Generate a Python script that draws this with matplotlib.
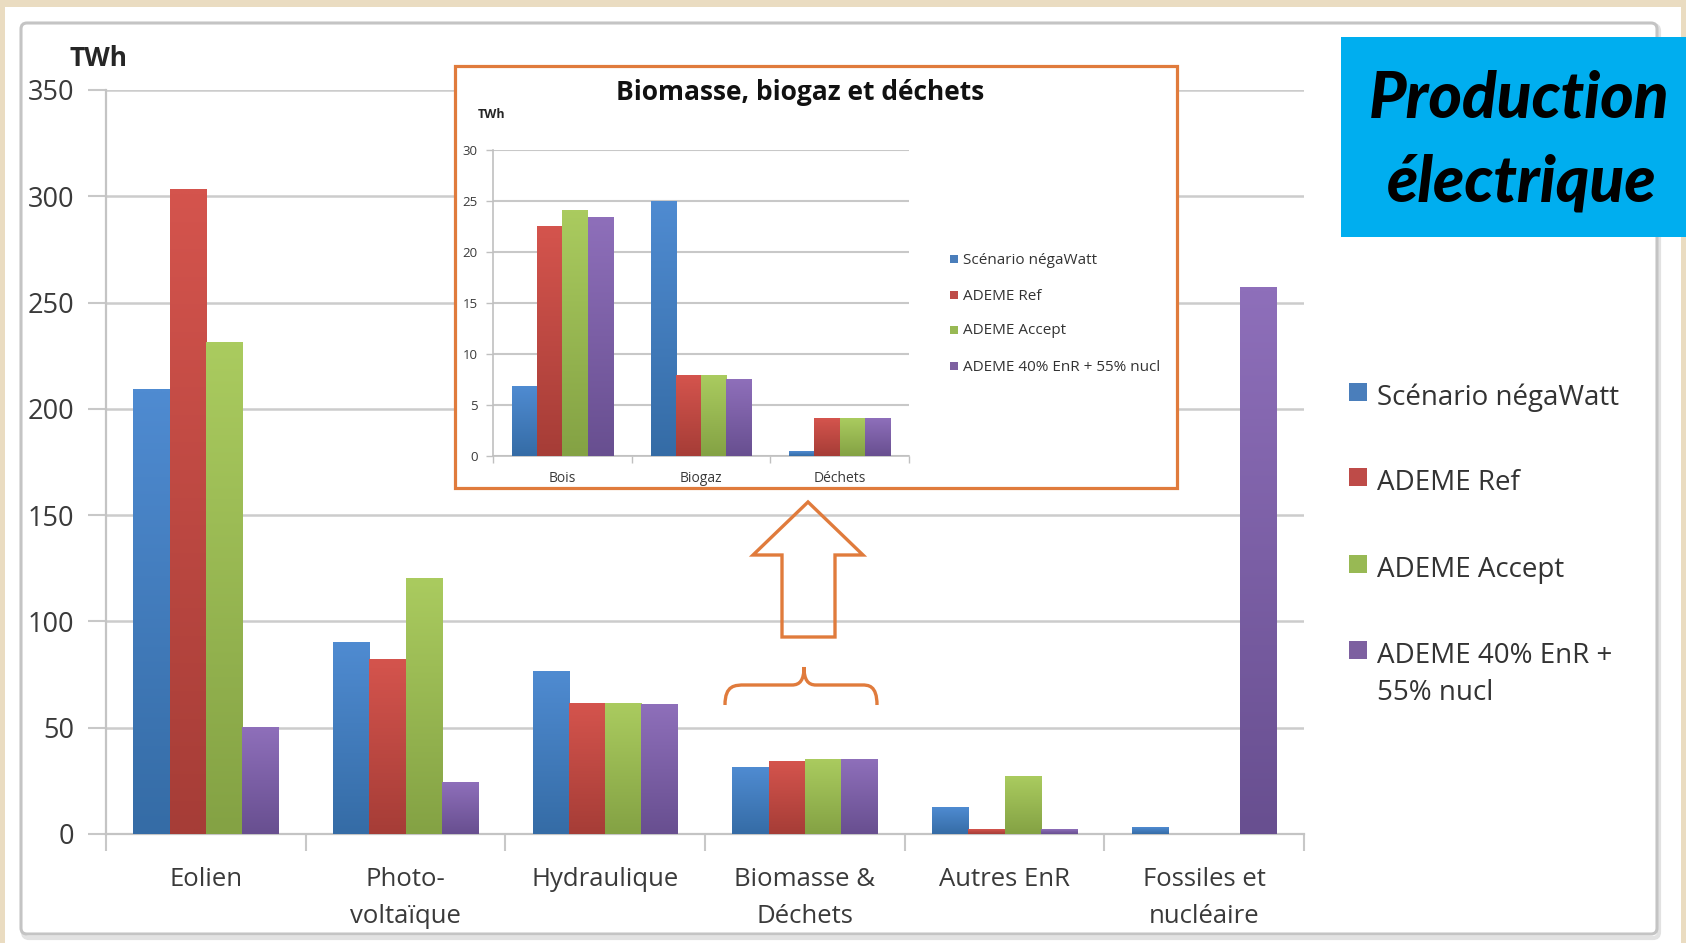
import numpy as np
import matplotlib
matplotlib.use('Agg')
import matplotlib.pyplot as plt
from matplotlib.patches import Rectangle, FancyBboxPatch, PathPatch, Polygon
from matplotlib.path import Path
from matplotlib.transforms import Affine2D
from matplotlib.colors import to_rgb

# production électrique par filière (TWh)
categories = ['Eolien', 'Photo-\nvoltaïque', 'Hydraulique', 'Biomasse &\nDéchets',
              'Autres EnR', 'Fossiles et\nnucléaire']
scenarios = ['Scénario négaWatt', 'ADEME Ref', 'ADEME Accept', 'ADEME 40% EnR +\n55% nucl']
negawatt = [209, 90, 76.5, 31.5, 12.5, 3]
ademe_ref = [303, 82, 61.5, 34, 2, 0]
ademe_accept = [231, 120, 61.5, 35, 27, 0]
ademe_40 = [50, 24, 61, 35, 2, 257]
y_ticks = [0, 50, 100, 150, 200, 250, 300, 350]

# détail biomasse / biogaz / déchets (TWh)
bio_categories = ['Bois', 'Biogaz', 'Déchets']
bio_negawatt = [6.8, 25.0, 0.4]
bio_ref = [22.5, 7.9, 3.7]
bio_accept = [24.1, 7.9, 3.7]
bio_40 = [23.4, 7.5, 3.7]
bio_ticks = [0, 5, 10, 15, 20, 25, 30]

# couleurs haut / bas du dégradé de chaque série
tops = ['#4F8BD1', '#D4544D', '#AACB5F', '#8E6FBA']
bottoms = ['#356CA6', '#A63D37', '#84A244', '#684F90']
flat = ['#4A7EBB', '#BE4B48', '#98B954', '#7D60A0']

plt.rcParams['font.family'] = ['Open Sans', 'DejaVu Sans']
W, H = 1686, 943
fig = plt.figure(figsize=(W / 100, H / 100), dpi=100)
fig.patch.set_facecolor('#EADCC1')

# pixels depuis le coin haut gauche
pix = Affine2D().scale(1 / W, -1 / H).translate(0, 1) + fig.transFigure


def box(x0, y0, x1, y1):
    return [x0 / W, 1 - y1 / H, (x1 - x0) / W, (y1 - y0) / H]


def gradient_bars(ax, bars, top, bottom):
    t = np.linspace(0, 1, 64).reshape(-1, 1, 1)
    img = np.array(to_rgb(top)) * (1 - t) + np.array(to_rgb(bottom)) * t
    for b in bars:
        x0, w, h = b.get_x(), b.get_width(), b.get_height()
        if h <= 0:
            continue
        ax.imshow(img, extent=[x0, x0 + w, 0, h], origin='upper', aspect='auto',
                  interpolation='bilinear', zorder=3.5)


def grouped(ax, series, width, ylim):
    x = np.arange(len(series[0]))
    for i, vals in enumerate(series):
        bars = ax.bar(x + (i - 1.5) * width, vals, width, color=flat[i], zorder=3, linewidth=0)
        gradient_bars(ax, bars, tops[i], bottoms[i])
    ax.set_xlim(-0.5, len(x) - 0.5)
    ax.set_ylim(*ylim)
    return x


# fond blanc et cadre
fig.add_artist(Rectangle((5, 7), 1676, 940, transform=pix, fc='white', ec='none', zorder=-2))
fig.add_artist(FancyBboxPatch((23, 25), 1636, 913, boxstyle='round,pad=0,rounding_size=6',
                              transform=pix, fc='none', ec='#E2E2E2', lw=3, zorder=-1))
fig.add_artist(FancyBboxPatch((21, 23), 1636, 911, boxstyle='round,pad=0,rounding_size=6',
                              transform=pix, fc='white', ec='#C4C4C4', lw=2.2, zorder=-1))

# graphique principal
ax = fig.add_axes(box(106, 90, 1304, 834))
ax.set_facecolor('none')
x = grouped(ax, [negawatt, ademe_ref, ademe_accept, ademe_40], 1 / 5.5, (0, 350))
ax.set_yticks(y_ticks)
ax.set_xticks(x)
ax.set_xticklabels(categories, fontsize=18.5, color='#3A3A3A', linespacing=1.6)
ax.set_xticks(np.arange(len(x) + 1) - 0.5, minor=True)
ax.tick_params(axis='x', which='major', length=0, pad=24)
ax.tick_params(axis='x', which='minor', length=12, width=1.5, color='#C8C8C8')
ax.tick_params(axis='y', length=13, width=1.5, color='#C8C8C8', pad=10,
               labelsize=19.5, labelcolor='#3A3A3A')
ax.yaxis.grid(True, color='#CCCCCC', lw=1.8)
ax.set_axisbelow(True)
for s in ['top', 'right']:
    ax.spines[s].set_visible(False)
for s in ['left', 'bottom']:
    ax.spines[s].set_color('#C4C4C4')
    ax.spines[s].set_linewidth(1.6)
fig.text(99 / W, 1 - 58 / H, 'TWh', fontsize=19, fontweight='bold', color='#262626',
         ha='center', va='center')

# légende principale (le carré suit la première ligne du libellé)
legend_y = [405, 490, 577, 663]
for i, (lab, yb) in enumerate(zip(scenarios, legend_y)):
    fig.add_artist(Rectangle((1349, yb - 22), 18, 18, transform=pix, fc=flat[i], ec='none', zorder=3))
    for k, line in enumerate(lab.split('\n')):
        fig.text(1377 / W, 1 - (yb + 37 * k) / H, line, fontsize=20, color='#333333',
                 ha='left', va='baseline')

# encadré biomasse
fig.add_artist(Rectangle((455, 66), 722, 422, transform=pix, fc='white', ec='#E07B3C',
                         lw=2.3, zorder=2))
iax = fig.add_axes(box(493, 150, 909, 456))
iax.set_zorder(3)
iax.set_facecolor('none')
ix = grouped(iax, [bio_negawatt, bio_ref, bio_accept, bio_40], 1 / 5.5, (0, 30))
iax.set_yticks(bio_ticks)
iax.set_xticks(ix)
iax.set_xticklabels(bio_categories, fontsize=10, color='#3A3A3A')
iax.set_xticks(np.arange(len(ix) + 1) - 0.5, minor=True)
iax.tick_params(axis='x', which='major', length=0, pad=11)
iax.tick_params(axis='x', which='minor', length=5, width=1, color='#C0C0C0')
iax.tick_params(axis='y', length=5, width=1, color='#C0C0C0', pad=6,
                labelsize=9.5, labelcolor='#3A3A3A')
iax.yaxis.grid(True, color='#C8C8C8', lw=1.5)
iax.set_axisbelow(True)
for s in ['top', 'right']:
    iax.spines[s].set_visible(False)
for s in ['left', 'bottom']:
    iax.spines[s].set_color('#C0C0C0')
    iax.spines[s].set_linewidth(1.2)
fig.text(800 / W, 1 - 93 / H, 'Biomasse, biogaz et déchets', fontsize=19, fontweight='bold',
         color='#111111', ha='center', va='center', zorder=4)
fig.text(492 / W, 1 - 114 / H, 'TWh', fontsize=9, fontweight='bold', color='#262626',
         ha='center', va='center', zorder=4)
inset_leg_y = [260, 296, 331, 367]
for i, (lab, yc) in enumerate(zip(scenarios, inset_leg_y)):
    fig.add_artist(Rectangle((950, yc - 5), 8, 8, transform=pix, fc=flat[i], ec='none', zorder=4))
    fig.text(963 / W, 1 - yc / H, lab.replace('\n', ' '), fontsize=11, color='#333333',
             ha='left', va='center', zorder=4)

# flèche et accolade
orange = '#E07B3C'
arrow = [(808, 502), (863, 555), (835, 555), (835, 637), (782, 637), (782, 555), (753, 555)]
fig.add_artist(Polygon(arrow, closed=True, transform=pix, fc='none', ec=orange, lw=2.4, zorder=2))
brace = Path([(725, 705), (725, 685), (735, 685), (745, 685),
              (792, 685), (800, 685), (804, 680), (804, 667),
              (804, 680), (808, 685), (816, 685),
              (862, 685), (868, 685), (877, 685), (877, 705)],
             [Path.MOVETO, Path.CURVE4, Path.CURVE4, Path.CURVE4,
              Path.LINETO, Path.CURVE4, Path.CURVE4, Path.CURVE4,
              Path.CURVE4, Path.CURVE4, Path.CURVE4,
              Path.LINETO, Path.CURVE4, Path.CURVE4, Path.CURVE4])
fig.add_artist(PathPatch(brace, transform=pix, fc='none', ec=orange, lw=2.4, zorder=2))

# bandeau titre
fig.add_artist(Rectangle((1341, 37), 345, 200, transform=pix, fc='#00AEEF', ec='none', zorder=3))
fig.text(1519 / W, 1 - 117 / H, 'Production', fontsize=46, fontweight='black',
         fontstyle='italic', family='Lato', color='black', ha='center', va='baseline', zorder=4)
fig.text(1522 / W, 1 - 202 / H, 'électrique', fontsize=46, fontweight='black',
         fontstyle='italic', family='Lato', color='black', ha='center', va='baseline', zorder=4)

fig.savefig('out.png', dpi=100, facecolor=fig.get_facecolor())
